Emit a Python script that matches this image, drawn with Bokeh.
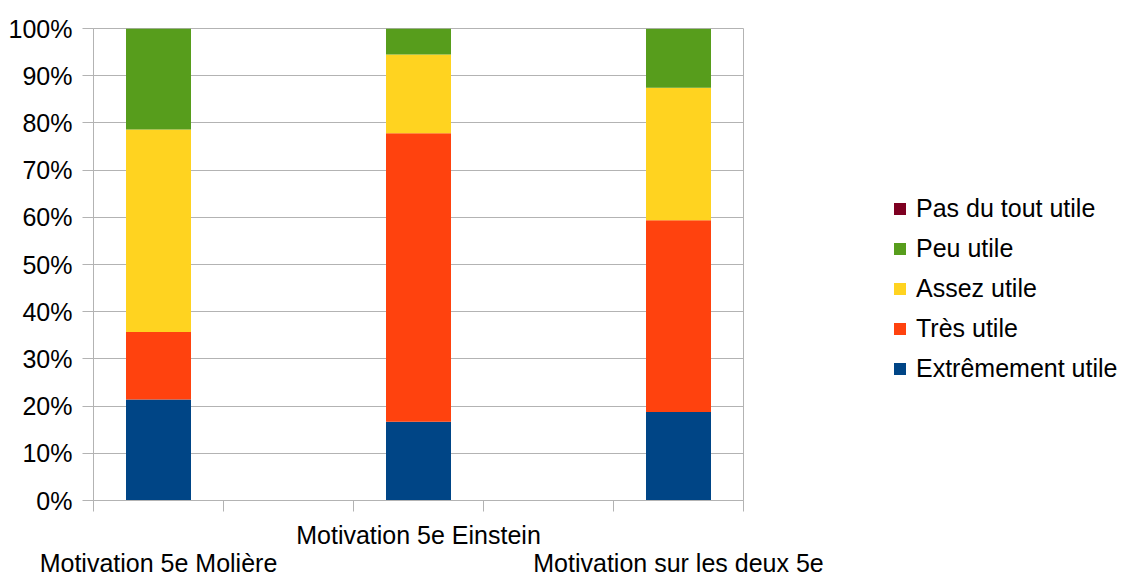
from bokeh.plotting import figure
from bokeh.layouts import row, column
from bokeh.models import (ColumnDataSource, Range1d, FixedTicker, NumeralTickFormatter,
                          Legend, LegendItem)
from bokeh.core.properties import value
from bokeh.embed import file_html
from bokeh.resources import INLINE

categories = ["Motivation 5e Molière", "Motivation 5e Einstein", "Motivation sur les deux 5e"]
series = ["Extrêmement utile", "Très utile", "Assez utile", "Peu utile", "Pas du tout utile"]
colors = ["#004586", "#ff420e", "#ffd320", "#579d1c", "#7e0021"]

extremement = [0.214, 0.167, 0.1875]
tres = [0.143, 0.611, 0.406]
assez = [0.429, 0.167, 0.281]
peu = [0.214, 0.055, 0.125]
pas_du_tout = [0.0, 0.0, 0.0]

y_ticks = [i / 10 for i in range(11)]

FONT = "Liberation Sans"
FS = "25px"
GREY = "#b3b3b3"

# layout geometry (pixels)
LEFT, FRAME_W, TOP, FRAME_H = 93, 650, 28, 472
W, H = 1128, 578
BOTTOM_H = 20
X0, X1 = -0.25, len(categories) - 0.75
PX_PER_UNIT = FRAME_W / (X1 - X0)
TOP_H = TOP + FRAME_H + BOTTOM_H

idx = list(range(len(categories)))
source = ColumnDataSource(data=dict(
    x=idx,
    **{series[0]: extremement, series[1]: tres, series[2]: assez,
       series[3]: peu, series[4]: pas_du_tout}))

# ---- main chart ----
p = figure(width=LEFT + FRAME_W + 1, height=TOP_H,
           output_backend="svg", toolbar_location=None,
           x_range=Range1d(X0, X1), y_range=Range1d(0, 1),
           min_border_left=LEFT, min_border_right=1, min_border_top=TOP,
           min_border_bottom=BOTTOM_H)

renderers = p.vbar_stack(series, x="x", width=0.25, color=colors, source=source, line_width=0)

p.xaxis.ticker = FixedTicker(ticks=[X0 + 0.5 * i for i in range(2 * len(categories))])
p.xaxis.major_label_text_color = None
p.xaxis.major_label_text_font_size = "0px"
p.xaxis.major_label_standoff = 0
p.xaxis.minor_tick_line_color = None
p.xaxis.major_tick_in = 0
p.xaxis.major_tick_out = 11
p.xaxis.major_tick_line_color = GREY
p.xaxis.axis_line_color = GREY

p.yaxis.ticker = FixedTicker(ticks=y_ticks)
p.yaxis.formatter = NumeralTickFormatter(format="0%")
p.yaxis.major_label_text_font = FONT
p.yaxis.major_label_text_font_size = FS
p.yaxis.major_label_text_color = "black"
p.yaxis.major_label_standoff = 10
p.yaxis.minor_tick_line_color = None
p.yaxis.major_tick_in = 0
p.yaxis.major_tick_out = 11
p.yaxis.major_tick_line_color = GREY
p.yaxis.axis_line_color = GREY

p.xgrid.grid_line_color = None
p.ygrid.ticker = FixedTicker(ticks=y_ticks)
p.ygrid.grid_line_color = GREY
p.outline_line_color = GREY
p.outline_line_alpha = 1

# ---- legend panel (its frame aligns with the chart frame) ----
p2 = figure(width=W - (LEFT + FRAME_W + 1), height=TOP_H, output_backend="svg",
            toolbar_location=None, x_range=Range1d(-20, -19), y_range=Range1d(0, 1),
            min_border_left=0, min_border_right=0, min_border_top=0, min_border_bottom=0)
p2.axis.visible = False
p2.grid.visible = False
p2.outline_line_color = None
legend_r = p2.vbar_stack(series, x="x", width=0.25, color=colors, source=source, line_width=0)
items = [LegendItem(label=s, renderers=[r]) for s, r in zip(series, legend_r)][::-1]
legend = Legend(items=items, location=(148, 117), glyph_width=15, glyph_height=15,
                label_height=25, label_standoff=9, spacing=11, padding=0, margin=0,
                border_line_color=None, background_fill_alpha=0,
                label_text_font=FONT, label_text_font_size=FS, label_text_color="black")
p2.add_layout(legend, "center")

# ---- category labels strip (staggered), full width ----
p3 = figure(width=W, height=H - TOP_H,
            output_backend="svg", toolbar_location=None,
            x_range=Range1d(X0 - LEFT / PX_PER_UNIT, X0 + (W - LEFT) / PX_PER_UNIT),
            y_range=Range1d(H, TOP_H),
            min_border_left=0, min_border_right=0, min_border_top=0, min_border_bottom=0)
p3.axis.visible = False
p3.grid.visible = False
p3.outline_line_color = None
label_src = ColumnDataSource(data=dict(
    x=idx, text=categories,
    y=[534 if i % 2 == 1 else 562 for i in idx]))
p3.text(x="x", y="y", text="text", source=label_src, text_align="center",
        text_baseline="alphabetic", text_font=value(FONT), text_font_size=FS,
        text_color="black")

layout = column(row(p, p2, spacing=0), p3, spacing=0)

open("out.html", "w").write(file_html(layout, INLINE))
